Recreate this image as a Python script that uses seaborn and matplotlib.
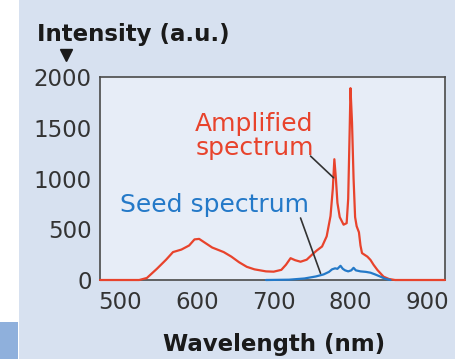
import numpy as np
import pandas as pd
import matplotlib
matplotlib.use("Agg")
import matplotlib.pyplot as plt
import seaborn as sns
from matplotlib.patches import Rectangle
from matplotlib.lines import Line2D

# ---- data ----
amp_wavelength = [474, 500, 525, 535, 548, 560, 569, 580, 590, 597, 603, 610, 620, 635, 645,
                  655, 665, 675, 690, 700, 710, 716, 722, 728, 735, 743, 750, 756, 763, 769,
                  774, 777, 779, 781, 783, 786, 791, 795, 797, 799, 800, 802, 804, 806, 808,
                  811, 813, 815, 822, 826, 830, 835, 843, 850, 858, 923]
amp_intensity = [0, 0, 0, 20, 110, 200, 275, 300, 340, 400, 405, 370, 320, 275, 230,
                 175, 130, 105, 85, 82, 100, 150, 215, 195, 180, 200, 250, 290, 330, 430,
                 630, 900, 1190, 1000, 760, 620, 545, 560, 800, 1500, 1890, 1550, 1000, 620, 530,
                 470, 340, 265, 230, 198, 150, 99, 33, 10, 0, 0]

seed_wavelength = [690, 720, 740, 755, 765, 772, 776, 780, 783, 787, 790, 793, 797, 801,
                   804, 807, 813, 820, 826, 832, 839, 845, 852]
seed_intensity = [0, 3, 15, 35, 55, 80, 105, 115, 110, 140, 110, 95, 85, 95,
                  120, 95, 85, 80, 72, 55, 33, 12, 0]

x_ticks = [500, 600, 700, 800, 900]
y_ticks = [0, 500, 1000, 1500, 2000]

amp_label = "Amplified\nspectrum"
seed_label = "Seed spectrum"
x_label = "Wavelength (nm)"
y_label = "Intensity (a.u.)"

amp_df = pd.DataFrame({"wavelength": amp_wavelength, "intensity": amp_intensity})
seed_df = pd.DataFrame({"wavelength": seed_wavelength, "intensity": seed_intensity})

# ---- style ----
sns.set_style("white")
plt.rcParams["font.family"] = ["DejaVu Sans"]

RED = "#e8432c"
BLUE = "#2479c8"
SPINE = "#4a4a4a"
PANEL = "#d7e1f0"
AXBG = "#e7edf7"

W, H = 455, 359
fig = plt.figure(figsize=(W / 100, H / 100), dpi=100, facecolor="white")

# panel background
fig.patches.append(Rectangle((19 / W, 0), 1 - 19 / W, 1, transform=fig.transFigure,
                             facecolor=PANEL, edgecolor="none", zorder=-10))
fig.patches.append(Rectangle((0, 0), 18 / W, (359 - 322) / H, transform=fig.transFigure,
                             facecolor="#8fb0dc", edgecolor="none", zorder=-10))

ax = fig.add_axes([100 / W, (H - 280) / H, 345 / W, (280 - 77) / H])
ax.set_facecolor(AXBG)

sns.lineplot(data=amp_df, x="wavelength", y="intensity", ax=ax, color=RED,
             linewidth=1.6, zorder=4, sort=False)
sns.lineplot(data=seed_df, x="wavelength", y="intensity", ax=ax, color=BLUE,
             linewidth=1.6, zorder=5, sort=False)
for ln in ax.lines:
    ln.set_clip_on(False)

ax.set_xlim(474, 923)
ax.set_ylim(0, 2000)
ax.set_xticks(x_ticks)
ax.set_yticks(y_ticks)
ax.set_xlabel("")
ax.set_ylabel("")

for s in ax.spines.values():
    s.set_color(SPINE)
    s.set_linewidth(1.2)
    s.set_visible(True)

ax.tick_params(axis="x", direction="out", length=6, width=1.2, color=SPINE,
               labelsize=16.5, labelcolor="#333333", pad=2)
ax.tick_params(axis="y", direction="in", length=9, width=1.2, color=SPINE,
               labelsize=16.5, labelcolor="#333333", pad=6)

# annotations
ax.text(598, 1660, amp_label, color=RED, fontsize=18, ha="left", va="top",
        linespacing=1.0, zorder=6)
ax.text(500, 666, seed_label, color=BLUE, fontsize=18, ha="left", va="baseline", zorder=6)
ax.plot([748, 778], [1221, 1007], color="#333333", linewidth=1.2, zorder=6)
ax.plot([735, 761], [611, 66], color="#333333", linewidth=1.2, zorder=6)

# axis titles
fig.text(37 / W, (H - 41) / H, y_label, fontsize=16.5, fontweight="bold",
         color="#1a1a1a", ha="left", va="baseline")
fig.add_artist(Line2D([66 / W], [(H - 55) / H], transform=fig.transFigure, marker="v",
                      markersize=8, color="#1a1a1a", linestyle="none"))
fig.text(274 / W, (H - 351) / H, x_label, fontsize=16.5, fontweight="bold",
         color="#1a1a1a", ha="center", va="baseline")

fig.savefig("out.png", dpi=100, facecolor=fig.get_facecolor())
